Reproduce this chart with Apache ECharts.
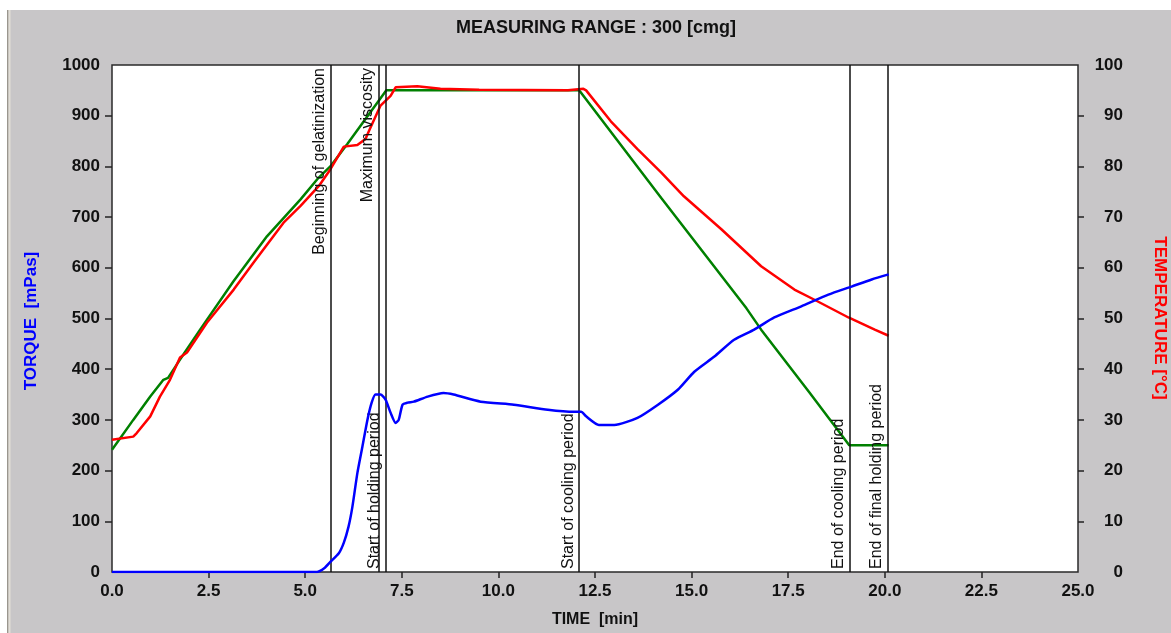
<!DOCTYPE html>
<html>
<head>
<meta charset="utf-8">
<title>Amylograph</title>
<script src="https://cdn.jsdelivr.net/npm/echarts@6/dist/echarts.min.js"></script>
<style>
  html, body { margin: 0; padding: 0; background: #fff; }
  #chart { width: 1171px; height: 633px; }
</style>
</head>
<body>
<div id="chart"></div>
<script>
// torque curve [mPas] vs time [min]
var torqueTime = [0, 5.3, 5.5, 5.65, 5.87, 6.0, 6.12, 6.22, 6.35, 6.48, 6.61, 6.72, 6.82, 6.95, 7.08, 7.21, 7.34, 7.42, 7.52, 7.65, 7.81, 8.17, 8.58, 8.84, 9.54, 10.4, 11.28, 11.96, 12.14, 12.27, 12.6, 13.0, 13.6, 14.13, 14.65, 15.07, 15.59, 16.1, 16.62, 17.14, 17.84, 18.54, 19.14, 19.66, 20.1];
var torqueValues = [0, 0, 8, 20, 37, 58, 89, 128, 195, 247, 300, 334, 350, 350, 340, 314, 294, 300, 330, 334, 336, 346, 353, 350, 336, 330, 320, 316, 316, 307, 290, 290, 304, 330, 360, 395, 425, 458, 478, 502, 524, 547, 563, 577, 587];

// measured temperature [°C]
var tempTime = [0, 0.55, 0.64, 0.99, 1.24, 1.5, 1.76, 1.94, 2.46, 3.15, 3.66, 4.44, 4.88, 5.35, 5.65, 6.0, 6.35, 6.56, 6.65, 6.95, 7.21, 7.34, 7.9, 8.5, 9.5, 11.8, 12.2, 12.27, 12.91, 13.6, 14.21, 14.8, 15.77, 16.8, 17.66, 18.18, 19.06, 19.74, 20.1];
var tempValues = [26.1, 26.7, 27.4, 30.7, 34.6, 37.9, 42.3, 43.3, 49.2, 55.7, 61.0, 68.9, 72.2, 76.1, 79.4, 83.9, 84.2, 85.4, 87.0, 92.0, 93.9, 95.6, 95.8, 95.3, 95.1, 95.0, 95.3, 95.0, 88.9, 83.4, 78.8, 74.1, 67.6, 60.3, 55.7, 53.7, 50.2, 47.8, 46.6];

// temperature profile (set point) [°C]
var profileTime = [0, 0.55, 0.99, 1.33, 1.45, 1.76, 2.28, 3.14, 4.01, 4.88, 5.35, 5.65, 6.09, 7.1, 12.09, 14.21, 16.42, 16.8, 18.05, 19.08, 20.1];
var profileValues = [24.1, 30.0, 34.6, 37.9, 38.3, 41.9, 47.8, 57.3, 66.2, 73.5, 77.8, 80.0, 84.4, 95, 95, 73.8, 52.0, 47.8, 35.4, 25, 25];

// event markers
var markerTimes = [5.67, 6.90, 7.09, 12.09, 19.08, 20.08];
var markerNames = ['Beginning of gelatinization', 'Maximum viscosity', 'Start of holding period', 'Start of cooling period', 'End of cooling period', 'End of final holding period'];

var xTicks = [0, 2.5, 5, 7.5, 10, 12.5, 15, 17.5, 20, 22.5, 25];
var torqueTicks = [0, 100, 200, 300, 400, 500, 600, 700, 800, 900, 1000];
var tempTicks = [0, 10, 20, 30, 40, 50, 60, 70, 80, 90, 100];

function pairs(xs, ys) {
  var out = [];
  for (var i = 0; i < xs.length; i++) out.push([xs[i], ys[i]]);
  return out;
}

var FONT = '"Liberation Sans", Arial, sans-serif';
var labelStyle = { color: '#111', fontFamily: FONT, fontWeight: 'bold', fontSize: 17 };

var markData = markerTimes.map(function (t, i) {
  return {
    xAxis: t,
    label: {
      formatter: markerNames[i],
      position: i < 2 ? 'insideEndTop' : 'insideStartTop'
    }
  };
});

var chart = echarts.init(document.getElementById('chart'));

var option = {
  backgroundColor: '#c8c6c8',
  animation: false,
  graphic: [
    { type: 'rect', shape: { x: 0, y: 0, width: 1171, height: 10 }, style: { fill: '#fff' }, silent: true },
    { type: 'rect', shape: { x: 0, y: 0, width: 7, height: 633 }, style: { fill: '#fff' }, silent: true },
    { type: 'rect', shape: { x: 7, y: 10, width: 1.5, height: 623 }, style: { fill: '#9a968e' }, silent: true },
    { type: 'rect', shape: { x: 8.5, y: 10, width: 2, height: 623 }, style: { fill: '#e2ded6' }, silent: true },
    {
      type: 'text', x: 596, y: 28, silent: true,
      style: { text: 'MEASURING RANGE : 300 [cmg]', fill: '#111', font: 'bold 18px ' + FONT, textAlign: 'center', textVerticalAlign: 'middle' }
    },
    {
      type: 'text', x: 31, y: 321, rotation: Math.PI / 2, silent: true,
      style: { text: 'TORQUE  [mPas]', fill: '#0000ff', font: 'bold 17px ' + FONT, textAlign: 'center', textVerticalAlign: 'middle' }
    },
    {
      type: 'text', x: 1160, y: 318, rotation: -Math.PI / 2, silent: true,
      style: { text: 'TEMPERATURE [°C]', fill: '#ff0000', font: 'bold 17px ' + FONT, textAlign: 'center', textVerticalAlign: 'middle' }
    }
  ],
  grid: {
    left: 112, top: 65, width: 966, height: 507,
    show: true, backgroundColor: '#fff', borderColor: '#2a2a2a', borderWidth: 1.5
  },
  xAxis: {
    type: 'value', min: 0, max: 25, interval: 2.5,
    name: 'TIME  [min]', nameLocation: 'middle', nameGap: 40,
    nameTextStyle: { color: '#111', fontFamily: FONT, fontWeight: 'bold', fontSize: 16 },
    axisLine: { show: false },
    axisTick: { show: true, length: 6, inside: false, lineStyle: { color: '#222', width: 1.5 }, customValues: xTicks.slice(1, -1) },
    axisLabel: Object.assign({ margin: 11, formatter: function (v) { return v.toFixed(1); }, customValues: xTicks }, labelStyle),
    splitLine: { show: false }
  },
  yAxis: [{
    type: 'value', min: 0, max: 1000, interval: 100, position: 'left',
    axisLine: { show: false },
    axisTick: { show: true, length: 7, lineStyle: { color: '#222', width: 1.5 }, customValues: torqueTicks.slice(1, -1) },
    axisLabel: Object.assign({ margin: 12, formatter: function (v) { return String(v); }, customValues: torqueTicks }, labelStyle),
    splitLine: { show: false }
  }, {
    type: 'value', min: 0, max: 100, interval: 10, position: 'right',
    axisLine: { show: false },
    axisTick: { show: true, length: 6, lineStyle: { color: '#222', width: 1.5 }, customValues: tempTicks.slice(1, -1) },
    axisLabel: Object.assign({ margin: 45, align: 'right', formatter: function (v) { return String(v); }, customValues: tempTicks }, labelStyle),
    splitLine: { show: false }
  }],
  series: [{
    name: 'Temperature profile', type: 'line', yAxisIndex: 1,
    data: pairs(profileTime, profileValues),
    showSymbol: false, lineStyle: { color: '#008000', width: 2.5 }, z: 3
  }, {
    name: 'Temperature', type: 'line', yAxisIndex: 1,
    data: pairs(tempTime, tempValues),
    showSymbol: false, lineStyle: { color: '#ff0000', width: 2.5 }, z: 4
  }, {
    name: 'Torque', type: 'line', yAxisIndex: 0,
    data: pairs(torqueTime, torqueValues),
    smooth: 0.2,
    showSymbol: false, lineStyle: { color: '#0000ff', width: 2.5 }, z: 5,
    markLine: {
      silent: true, symbol: 'none', animation: false,
      lineStyle: { color: '#111', width: 1.5, type: 'solid' },
      label: { color: '#111', fontFamily: FONT, fontSize: 16, distance: 3 },
      emphasis: { disabled: true },
      data: markData
    }
  }]
};

chart.setOption(option);
</script>
</body>
</html>
